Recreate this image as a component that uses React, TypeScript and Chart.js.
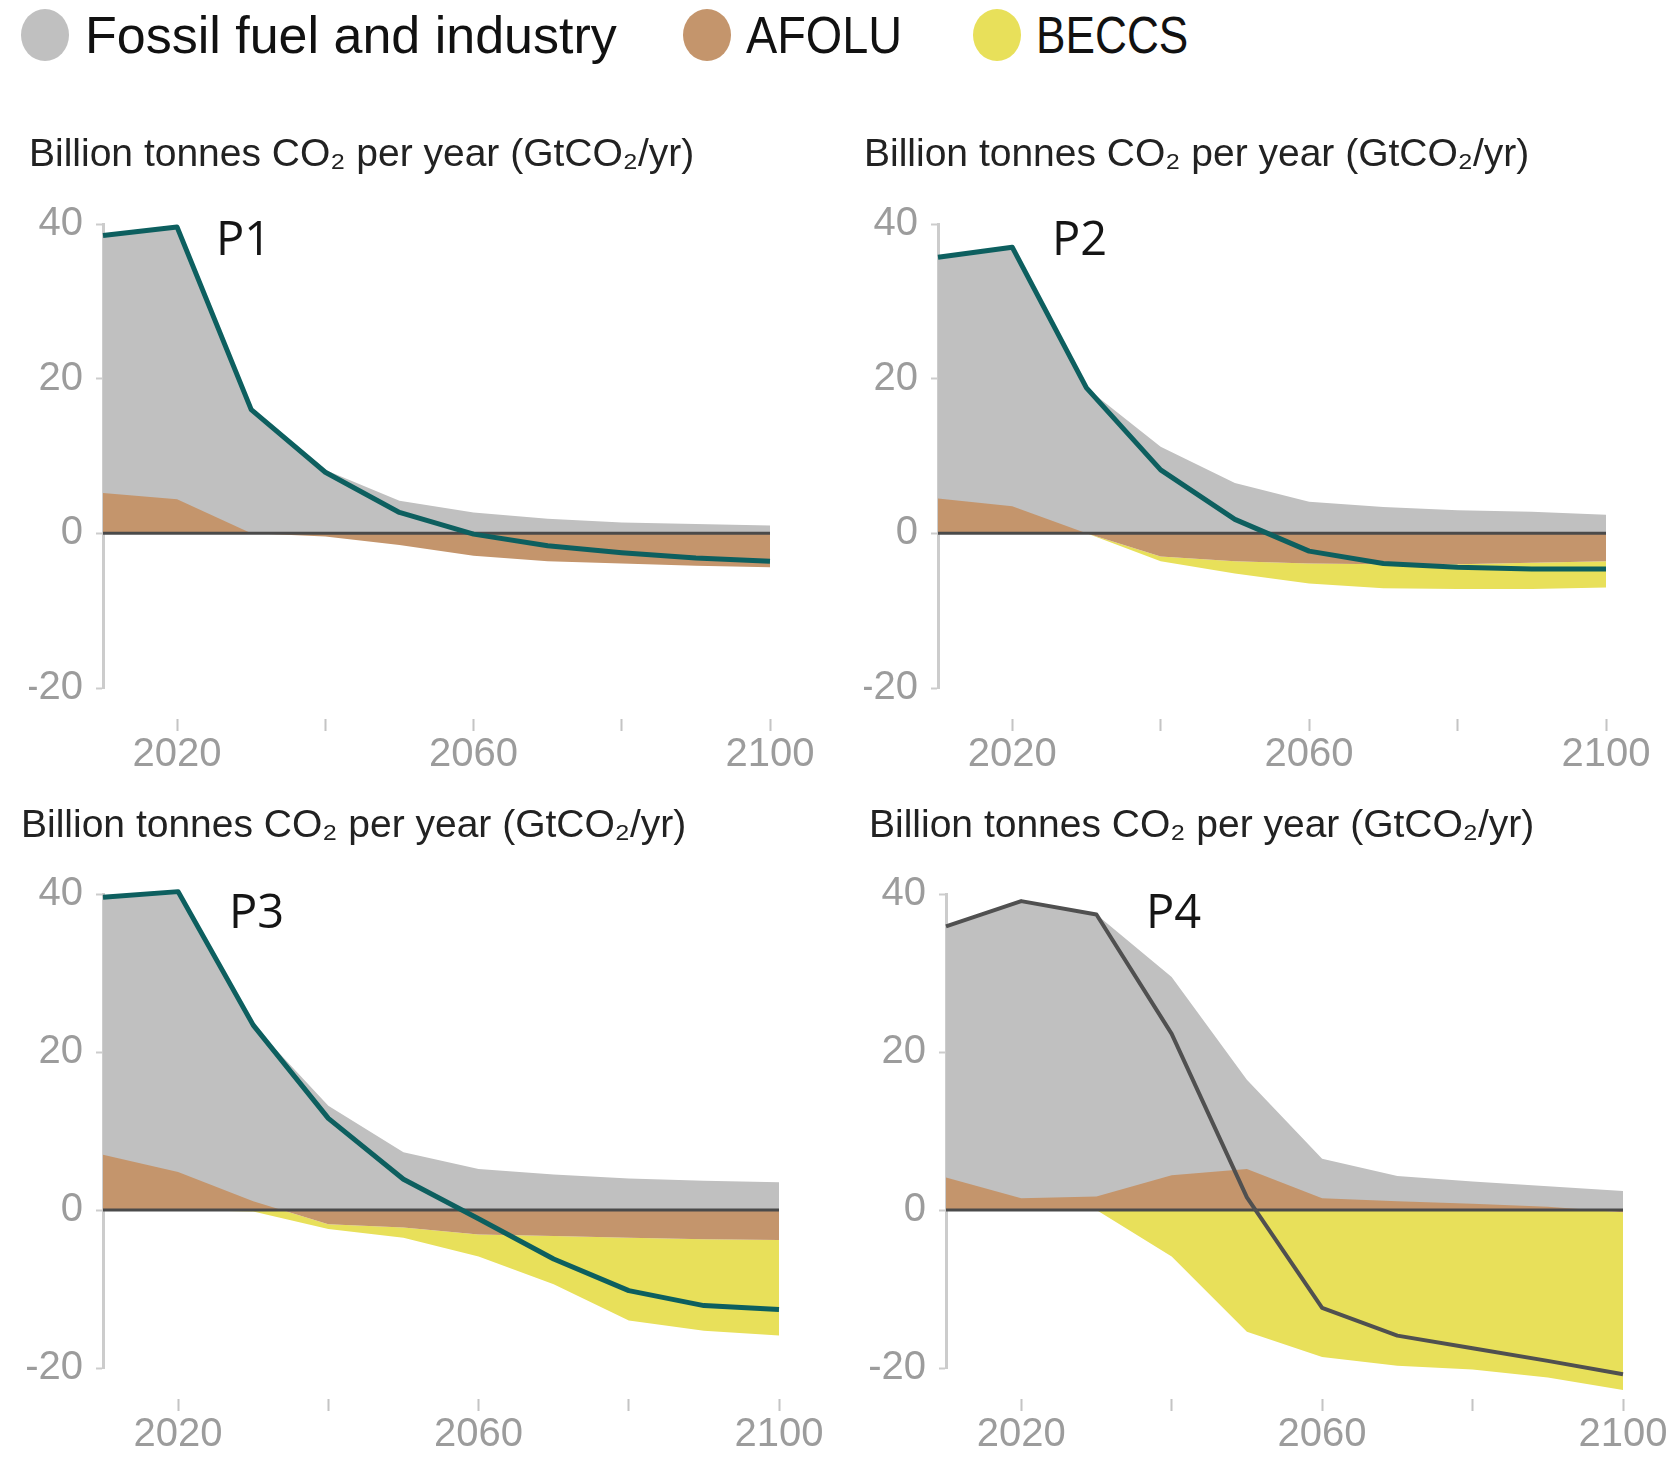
import { useEffect, useRef } from "react";
import { Chart, registerables } from "chart.js";

Chart.register(...registerables);

// ---------- data ----------
const years = [2010, 2020, 2030, 2040, 2050, 2060, 2070, 2080, 2090, 2100];
const xTickValues = [2020, 2040, 2060, 2080, 2100];
const xTickLabels = ["2020", "", "2060", "", "2100"];
const yTickValues = [-20, 0, 20, 40];

const legendLabels = ["Fossil fuel and industry", "AFOLU", "BECCS"];
const legendColors = ["#c0c0c0", "#c4956c", "#e8e05a"];

const axisTitle = "Billion tonnes CO₂ per year (GtCO₂/yr)";
const pathwayNames = ["P1", "P2", "P3", "P4"];

// P1
const p1Fossil = [33.3, 35.2, 16.0, 8.2, 4.2, 2.7, 1.9, 1.4, 1.2, 1.0];
const p1Afolu = [5.2, 4.4, 0.0, -0.4, -1.5, -2.9, -3.6, -3.9, -4.2, -4.4];
const p1Beccs = [0, 0, 0, 0, 0, 0, 0, 0, 0, 0];
const p1Net = [38.5, 39.6, 16.0, 7.9, 2.7, -0.1, -1.6, -2.5, -3.2, -3.6];

// P2
const p2Fossil = [31.2, 33.5, 18.8, 11.2, 6.5, 4.1, 3.4, 3.0, 2.8, 2.4];
const p2Afolu = [4.5, 3.5, 0.0, -3.0, -3.6, -3.9, -4.0, -4.0, -3.8, -3.6];
const p2Beccs = [0, 0, 0, -0.6, -1.6, -2.6, -3.1, -3.2, -3.4, -3.4];
const p2Net = [35.7, 37.0, 18.8, 8.2, 1.8, -2.3, -3.9, -4.4, -4.6, -4.6];

// P3
const p3Fossil = [32.6, 35.5, 22.3, 13.2, 7.3, 5.2, 4.5, 4.0, 3.7, 3.5];
const p3Afolu = [7.0, 4.8, 1.1, -1.8, -2.2, -3.1, -3.3, -3.5, -3.7, -3.8];
const p3Beccs = [0, 0, -0.2, -0.6, -1.3, -2.8, -6.1, -10.5, -11.6, -12.1];
const p3Net = [39.6, 40.3, 23.4, 11.6, 3.9, -1.1, -6.2, -10.2, -12.1, -12.6];

// P4
const p4Fossil = [31.8, 37.6, 35.7, 25.1, 11.3, 5.0, 3.2, 2.8, 2.6, 2.4];
const p4Afolu = [4.1, 1.5, 1.7, 4.4, 5.2, 1.5, 1.1, 0.8, 0.4, -0.3];
const p4Beccs = [0, 0, 0, -5.9, -15.4, -18.6, -19.7, -20.2, -21.2, -22.5];
const p4Net = [35.9, 39.1, 37.4, 22.3, 1.6, -12.4, -15.9, -17.5, -19.1, -20.8];

// ---------- styles ----------
const TEAL = "#0d5f5f";
const CHARCOAL = "#505050";
const TICK_COLOR = "#9c9c9c";
const AXIS_COLOR = "#cccccc";
const TITLE_FONT = "'Liberation Sans', Arial, sans-serif";
const TICK_FONT = "'Liberation Sans', Arial, sans-serif";
const TITLE_SIZE = 39;

type Panel = {
  name: string;
  fossil: number[];
  afolu: number[];
  beccs: number[];
  net: number[];
  lineColor: string;
  lineWidth: number;
  box: { left: number; top: number; width: number; height: number };
  padLeft: number;
  padRight: number;
  yAxisWidth: number;
  titleCenter: number;
  areaTop: number;
  xAxisHeight: number;
  labelDx: number;
  labelDy: number;
};

const panels: Panel[] = [
  {
    name: pathwayNames[0], fossil: p1Fossil, afolu: p1Afolu, beccs: p1Beccs, net: p1Net,
    lineColor: TEAL, lineWidth: 5,
    box: { left: 0, top: 110, width: 836, height: 680 },
    padLeft: 29, padRight: 66, yAxisWidth: 74, titleCenter: 45, areaTop: 114, xAxisHeight: 102,
    labelDx: 113, labelDy: 31,
  },
  {
    name: pathwayNames[1], fossil: p2Fossil, afolu: p2Afolu, beccs: p2Beccs, net: p2Net,
    lineColor: TEAL, lineWidth: 5,
    box: { left: 836, top: 110, width: 836, height: 680 },
    padLeft: 28, padRight: 66, yAxisWidth: 74, titleCenter: 45, areaTop: 114, xAxisHeight: 102,
    labelDx: 114, labelDy: 31,
  },
  {
    name: pathwayNames[2], fossil: p3Fossil, afolu: p3Afolu, beccs: p3Beccs, net: p3Net,
    lineColor: TEAL, lineWidth: 5,
    box: { left: 0, top: 790, width: 836, height: 675 },
    padLeft: 21, padRight: 57, yAxisWidth: 82, titleCenter: 36, areaTop: 104, xAxisHeight: 97,
    labelDx: 126, labelDy: 34,
  },
  {
    name: pathwayNames[3], fossil: p4Fossil, afolu: p4Afolu, beccs: p4Beccs, net: p4Net,
    lineColor: CHARCOAL, lineWidth: 4,
    box: { left: 836, top: 790, width: 836, height: 675 },
    padLeft: 33, padRight: 49, yAxisWidth: 77, titleCenter: 36, areaTop: 104, xAxisHeight: 97,
    labelDx: 200, labelDy: 34,
  },
];

// Text label "P1".."P4" inside the plot area
const pathwayLabelPlugin = {
  id: "pathwayLabel",
  afterDatasetsDraw(chart: any, _args: any, opts: any) {
    const { ctx, chartArea } = chart;
    ctx.save();
    ctx.font = "47px 'Open Sans', 'Liberation Sans', sans-serif";
    ctx.fillStyle = "#151515";
    ctx.textBaseline = "alphabetic";
    ctx.textAlign = "left";
    ctx.fillText(opts.text, chartArea.left + opts.dx, chartArea.top + opts.dy);
    ctx.restore();
  },
};

// Lets area fills run past the bottom of the plot area (values below -20)
const fillOverflowPlugin = {
  id: "fillOverflow",
  beforeDatasetsDraw(chart: any, _args: any, opts: any) {
    chart.$savedBottom = chart.chartArea.bottom;
    chart.chartArea.bottom = chart.chartArea.bottom + (opts.extra || 0);
  },
  afterDatasetsDraw(chart: any) {
    if (chart.$savedBottom !== undefined) {
      chart.chartArea.bottom = chart.$savedBottom;
      chart.$savedBottom = undefined;
    }
  },
};

function buildConfig(p: Panel): any {
  const pts = (arr: number[]) => years.map((x, i) => ({ x, y: arr[i] }));
  const grayTop = p.fossil.map((f, i) => f + Math.max(p.afolu[i], 0));
  const yellowBottom = p.beccs.map((b, i) => b + Math.min(p.afolu[i], 0));
  const zero = years.map(() => 0);
  const common = { pointRadius: 0, pointHoverRadius: 0, tension: 0, clip: false };
  const tickFont = { family: TICK_FONT, size: 40, lineHeight: 1.0 };

  return {
    type: "line",
    data: {
      datasets: [
        { label: "Net", data: pts(p.net), borderColor: p.lineColor, borderWidth: p.lineWidth, fill: false, order: 1, borderJoinStyle: "round", ...common },
        { label: "Zero", data: pts(zero), borderColor: "#4a4a4a", borderWidth: 3, fill: false, order: 2, ...common },
        { label: legendLabels[1], data: pts(p.afolu), borderColor: "rgba(0,0,0,0)", borderWidth: 0, backgroundColor: legendColors[1], fill: "origin", order: 3, ...common },
        { label: legendLabels[0], data: pts(grayTop), borderColor: "rgba(0,0,0,0)", borderWidth: 0, backgroundColor: legendColors[0], fill: "origin", order: 4, ...common },
        { label: legendLabels[2], data: pts(yellowBottom), borderColor: "rgba(0,0,0,0)", borderWidth: 0, backgroundColor: legendColors[2], fill: 2, order: 5, ...common },
      ],
    },
    plugins: [fillOverflowPlugin, pathwayLabelPlugin],
    options: {
      responsive: false,
      animation: false,
      devicePixelRatio: 1,
      events: [],
      layout: { padding: { left: p.padLeft, right: p.padRight, top: 0, bottom: 0 } },
      plugins: {
        legend: { display: false },
        tooltip: { enabled: false },
        title: {
          display: true,
          text: axisTitle,
          align: "start",
          color: "#222222",
          font: { family: TITLE_FONT, size: TITLE_SIZE, weight: "normal", lineHeight: 1.2 },
          padding: {
            top: p.titleCenter - (TITLE_SIZE * 1.2) / 2,
            bottom: p.areaTop - p.titleCenter - (TITLE_SIZE * 1.2) / 2,
          },
        },
        fillOverflow: { extra: 40 },
        pathwayLabel: { text: p.name, dx: p.labelDx, dy: p.labelDy },
      },
      scales: {
        x: {
          type: "linear",
          min: years[0],
          max: years[years.length - 1],
          afterBuildTicks: (s: any) => {
            s.ticks = xTickValues.map((v) => ({ value: v }));
          },
          afterFit: (s: any) => {
            s.height = p.xAxisHeight;
          },
          border: { display: false },
          grid: {
            display: true,
            drawOnChartArea: false,
            drawTicks: true,
            tickLength: 43,
            tickColor: "#c4c4c4",
            tickWidth: 2,
            tickBorderDash: [0, 31, 12, 300],
          },
          ticks: {
            autoSkip: false,
            maxRotation: 0,
            minRotation: 0,
            padding: 4,
            color: TICK_COLOR,
            font: tickFont,
            callback: (v: number) => {
              const i = xTickValues.indexOf(v);
              return i >= 0 ? xTickLabels[i] : "";
            },
          },
        },
        y: {
          min: -20,
          max: 40,
          afterBuildTicks: (s: any) => {
            s.ticks = yTickValues.map((v) => ({ value: v }));
          },
          afterFit: (s: any) => {
            s.width = p.yAxisWidth;
          },
          border: { display: true, color: AXIS_COLOR, width: 3 },
          grid: {
            display: true,
            drawOnChartArea: false,
            drawTicks: true,
            tickLength: 7,
            tickColor: AXIS_COLOR,
            tickWidth: 2,
          },
          ticks: {
            padding: 13,
            color: TICK_COLOR,
            font: tickFont,
          },
        },
      },
    },
  };
}

function PanelChart({ panel }: { panel: Panel }) {
  const ref = useRef<HTMLCanvasElement | null>(null);
  useEffect(() => {
    if (!ref.current) return;
    const chart = new Chart(ref.current, buildConfig(panel));
    return () => chart.destroy();
  }, [panel]);
  const { left, top, width, height } = panel.box;
  return (
    <canvas
      ref={ref}
      width={width}
      height={height}
      style={{ position: "absolute", left, top, width, height }}
    />
  );
}

const legendItems = [
  { circleX: 45, textX: 85, squeeze: 1 },
  { circleX: 707, textX: 746, squeeze: 0.9 },
  { circleX: 997, textX: 1036, squeeze: 0.85 },
];

export default function App() {
  return (
    <div
      style={{
        position: "absolute",
        left: 0,
        top: 0,
        width: 1672,
        height: 1465,
        background: "#ffffff",
        overflow: "hidden",
      }}
    >
      {legendItems.map((it, i) => (
        <div key={legendLabels[i]}>
          <div
            style={{
              position: "absolute",
              left: it.circleX - 24,
              top: 35 - 26,
              width: 48,
              height: 52,
              borderRadius: "50%",
              background: legendColors[i],
            }}
          />
          <div
            style={{
              position: "absolute",
              left: it.textX,
              top: 9,
              fontFamily: TITLE_FONT,
              fontSize: 52,
              lineHeight: "52px",
              color: "#111111",
              whiteSpace: "nowrap",
              transform: `scaleX(${it.squeeze})`,
              transformOrigin: "left center",
            }}
          >
            {legendLabels[i]}
          </div>
        </div>
      ))}
      {panels.map((p) => (
        <PanelChart key={p.name} panel={p} />
      ))}
    </div>
  );
}
